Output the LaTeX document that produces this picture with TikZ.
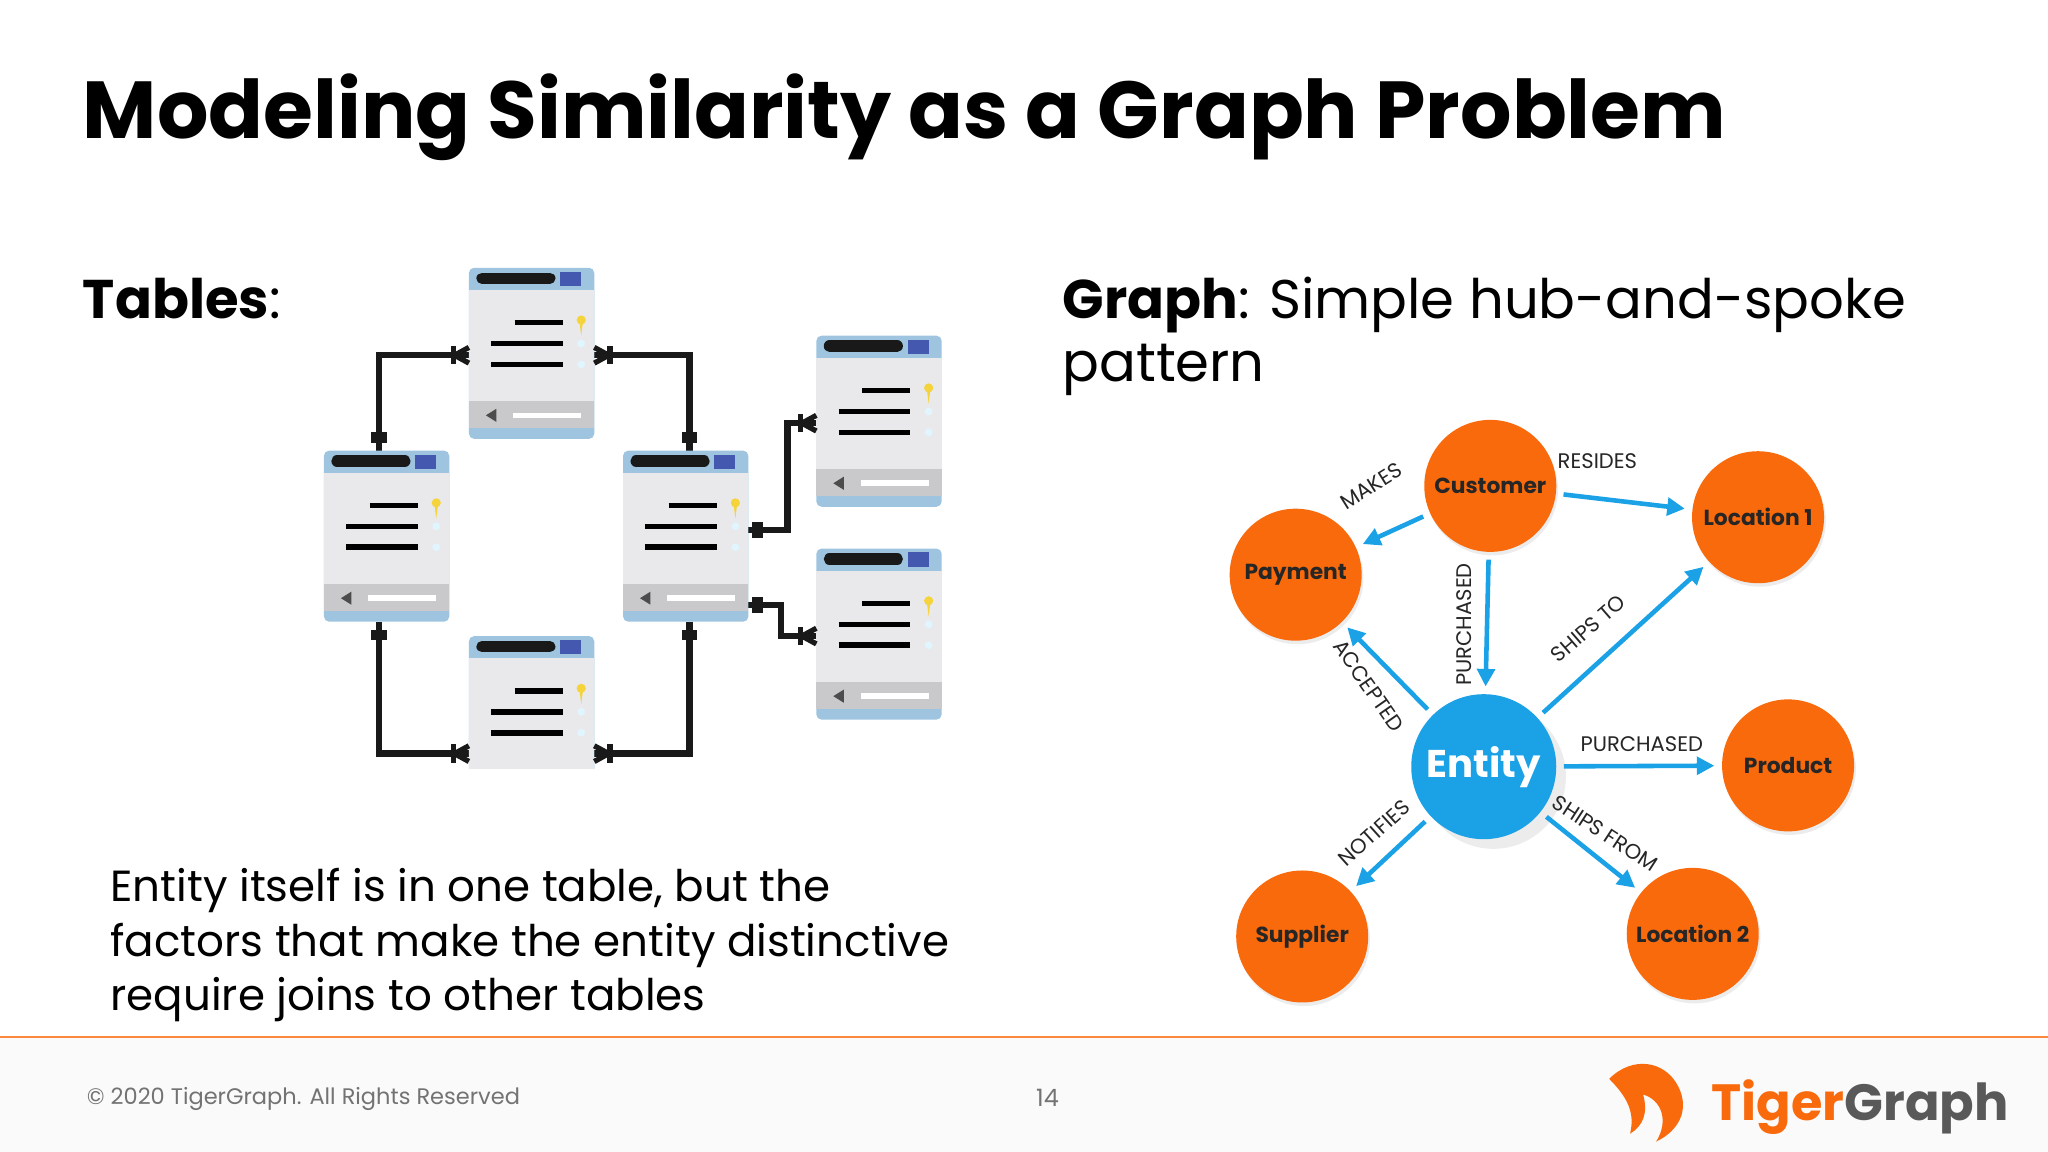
\documentclass[tikz,border=0pt]{standalone}
\usepackage{fontspec}
\setmainfont{Poppins}
\usetikzlibrary{arrows.meta,shadows}
\definecolor{tgorange}{HTML}{F96A0C}
\definecolor{tgblue}{HTML}{1BA1E6}
\definecolor{hdr}{HTML}{9EC4DF}
\definecolor{bodyg}{HTML}{E9E9EB}
\definecolor{barg}{HTML}{C9C9CB}
\definecolor{sq}{HTML}{4558B0}
\definecolor{key}{HTML}{F5D33A}
\newcommand\dbtable[3]{%
 \begin{scope}[shift={(#2,#3)}]
  \coordinate (#1) at (0,0);
  \fill[hdr,rounded corners=1.5] (0,0) rectangle (96,131);
  \fill[bodyg] (0,17) rectangle (96,102);
  \fill[barg] (0,102) rectangle (96,123);
  \draw[line width=3.2pt,line cap=round,black!90] (10,8) -- (62,8);
  \fill[sq] (70,3) rectangle (86,14);
  \draw[line width=1.6pt] (35,42) -- (72,42) (17,58) -- (72,58) (17,74) -- (72,74);
  \fill[key] (86,40) circle (3.5);
  \fill[key] (84.5,40) -- (87.5,40) -- (86,52) -- cycle;
  \fill[cyan!12] (86,58) circle (3) (86,74) circle (3);
  \fill[gray!60!black] (13,113) -- (21,108) -- (21,118) -- cycle;
  \draw[white,line width=1.6pt] (34,113) -- (86,113);
 \end{scope}}
\newcommand\crowR[1]{\draw[tl] #1 ++(-11,0) -- ++(11,-6) ++(-11,6) -- ++(11,6); \draw[tl] #1 ++(-12,-7) -- ++(0,14);}
\newcommand\crowL[1]{\draw[tl] #1 ++(11,0) -- ++(-11,-6) ++(11,6) -- ++(-11,6); \draw[tl] #1 ++(12,-7) -- ++(0,14);}
\newcommand\barsV[2]{\draw[tl] #1 ++(-6,#2) -- ++(12,0) ++(-12,4) -- ++(12,0);}
\newcommand\barsH[2]{\draw[tl] #1 ++(#2,-6) -- ++(0,12) ++(4,-12) -- ++(0,12);}
\begin{document}
\begin{tikzpicture}[x=0.0130612cm,y=-0.0130612cm,
  tl/.style={line width=1.5pt,black!90},
  con/.style={line width=1.8pt,black!90},
  vtx/.style={circle,fill=tgorange,minimum size=1.32cm,inner sep=0,font=\bfseries\fontsize{6.2}{8}\selectfont,text=black!85,drop shadow={opacity=0.15,shadow xshift=0.5pt,shadow yshift=-1pt}},
  hub/.style={circle,fill=tgblue,minimum size=1.45cm,inner sep=0,text=white,font=\bfseries\fontsize{11}{13}\selectfont,drop shadow={opacity=0.15}},
  ed/.style={-{Triangle[length=5pt,width=5pt]},tgblue,line width=1.3pt,shorten >=2pt,shorten <=2pt},
  el/.style={font=\fontsize{6}{7}\selectfont,text=black!85,inner sep=0.5pt}]
\useasboundingbox (0,0) rectangle (1568,882);
\fill[white] (0,0) rectangle (1568,882);
\fill[black!2] (0,795) rectangle (1568,882);
\draw[tgorange!80,line width=0.8pt] (0,794) -- (1568,794);
\node[anchor=base west,inner sep=0,font=\bfseries\fontsize{23}{28}\selectfont] (title) at (63,106) {Modeling Similarity as a Graph Problem};
\node[anchor=base west,inner sep=0,font=\fontsize{15.5}{18}\selectfont] (tables) at (63,244) {\textbf{Tables}:};
\node[anchor=base west,inner sep=0,font=\fontsize{15.5}{18}\selectfont] (graphh) at (813,244) {\textbf{Graph}: Simple hub-and-spoke};
\node[anchor=base west,inner sep=0,font=\fontsize{15.5}{18}\selectfont] (patt) at (813,292) {pattern};
\node[anchor=base west,inner sep=0,font=\fontsize{12.4}{16}\selectfont] (b1) at (84,690) {Entity itself is in one table, but the};
\node[anchor=base west,inner sep=0,font=\fontsize{12.4}{16}\selectfont] (b2) at (84,732) {factors that make the entity distinctive};
\node[anchor=base west,inner sep=0,font=\fontsize{12.4}{16}\selectfont] (b3) at (84,774) {require joins to other tables};
\draw[con] (359,272) -- (290,272) -- (290,345);
\draw[con] (455,272) -- (528,272) -- (528,345);
\draw[con] (290,476) -- (290,577) -- (359,577);
\draw[con] (528,476) -- (528,577) -- (455,577);
\draw[con] (573,406) -- (603,406) -- (603,324) -- (625,324);
\draw[con] (573,463) -- (598,463) -- (598,487) -- (625,487);
\dbtable{t1}{359}{205}
\dbtable{t2}{248}{345}
\dbtable{t3}{477}{345}
\dbtable{t4}{359}{487}
\dbtable{t5}{625}{257}
\dbtable{t6}{625}{420}
\fill[white] (340,589) rectangle (470,625);
\crowR{(359,272)} \crowL{(455,272)} \crowR{(359,577)} \crowL{(455,577)}
\crowR{(625,324)} \crowR{(625,487)}
\barsV{(290,345)}{-12} \barsV{(528,345)}{-12}
\barsV{(290,476)}{8} \barsV{(528,476)}{8}
\barsH{(573,406)}{5} \barsH{(573,463)}{5}
\node[vtx] (cust) at (1141,372) {Customer};
\node[vtx] (loc1) at (1346,396) {Location 1};
\node[vtx] (pay) at (992,440) {Payment};
\node[hub] (ent) at (1136,587) {Entity};
\node[vtx] (prod) at (1369,586) {Product};
\node[vtx] (sup) at (997,717) {Supplier};
\node[vtx] (loc2) at (1296,715) {Location 2};
\draw[ed] (cust) -- (pay);
\draw[ed] (cust) -- (loc1);
\draw[ed] (cust) -- (ent);
\draw[ed] (ent) -- (pay);
\draw[ed] (ent) -- (loc1);
\draw[ed] (ent) -- (prod);
\draw[ed] (ent) -- (sup);
\draw[ed] (ent) -- (loc2);
\node[el,rotate=32] (lmakes) at (1050,372) {MAKES};
\node[el] (lres) at (1223,353) {RESIDES};
\node[el,rotate=90] (lpur1) at (1121,478) {PURCHASED};
\node[el,rotate=-55] (lacc) at (1048,525) {ACCEPTED};
\node[el,rotate=41] (lship) at (1216,481) {SHIPS TO};
\node[el] (lpur2) at (1257,570) {PURCHASED};
\node[el,rotate=42] (lnot) at (1052,638) {NOTIFIES};
\node[el,rotate=-33] (lfrom) at (1229,638) {SHIPS FROM};
\node[anchor=base west,inner sep=0,text=black!55,font=\fontsize{6.4}{8}\selectfont] (copy) at (66,846) {© 2020 TigerGraph. All Rights Reserved};
\node[anchor=base,inner sep=0,text=black!55,font=\fontsize{6.8}{8}\selectfont] (pg) at (802,847) {14};
\fill[tgorange] (1232,826) .. controls (1250,808) and (1275,812) .. (1285,832) .. controls (1294,850) and (1285,866) .. (1268,874) .. controls (1278,858) and (1272,842) .. (1258,838) .. controls (1262,852) and (1258,862) .. (1248,868) .. controls (1252,852) and (1246,840) .. (1232,826) -- cycle;
\node[anchor=base west,inner sep=0,font=\bfseries\fontsize{14.5}{18}\selectfont] (logo) at (1310,858) {\textcolor{tgorange}{Tiger}\textcolor{black!65}{Graph}};
\end{tikzpicture}
\end{document}
